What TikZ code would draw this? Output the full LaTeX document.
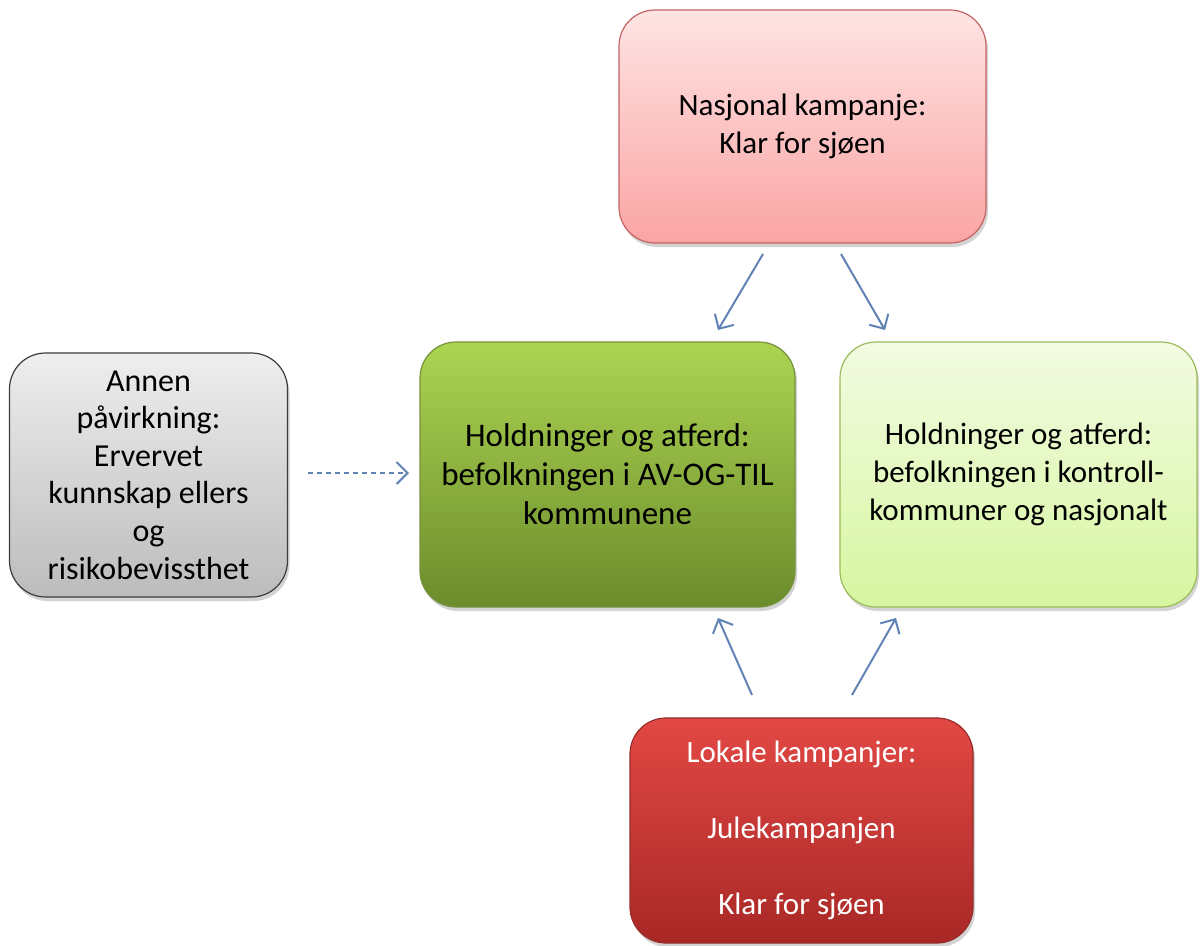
\documentclass[tikz,border=0pt]{standalone}
\usepackage{fontspec}
\setmainfont{Carlito}
\usetikzlibrary{arrows.meta,shadows}
\definecolor{arrowblue}{RGB}{96,130,180}
\definecolor{pinkTop}{RGB}{254,228,228}
\definecolor{pinkBot}{RGB}{251,164,164}
\definecolor{pinkLine}{RGB}{196,100,98}
\definecolor{greenTop}{RGB}{172,212,82}
\definecolor{greenBot}{RGB}{108,140,44}
\definecolor{greenLine}{RGB}{118,146,60}
\definecolor{lgreenTop}{RGB}{243,251,226}
\definecolor{lgreenBot}{RGB}{214,246,160}
\definecolor{lgreenLine}{RGB}{155,187,89}
\definecolor{grayTop}{RGB}{238,238,238}
\definecolor{grayBot}{RGB}{188,188,188}
\definecolor{grayLine}{RGB}{60,60,60}
\definecolor{redTop}{RGB}{226,72,68}
\definecolor{redBot}{RGB}{168,40,38}
\definecolor{redLine}{RGB}{150,45,42}
\tikzset{
  box/.style={draw, line width=1.2pt, rounded corners=36pt, align=center,
    font=\fontsize{31pt}{38pt}\selectfont, inner sep=0pt,
    drop shadow={opacity=0.35, shadow xshift=2pt, shadow yshift=-4pt}},
  conn/.style={draw=arrowblue, line width=2pt,
    -{Straight Barb[length=11pt,width=22pt,line width=2pt]}},
  dconn/.style={conn, dash pattern=on 5pt off 4pt}
}
\begin{document}
\begin{tikzpicture}[x=1pt,y=-1pt]
\useasboundingbox (0,0) rectangle (1204,945);
\node[box, minimum width=367pt, minimum height=233pt, draw=pinkLine,
  top color=pinkTop, bottom color=pinkBot] (nat) at (802.5,126.5)
  {Nasjonal kampanje:\\Klar for sjøen};
\node[box, minimum width=375pt, minimum height=265pt, draw=greenLine,
  top color=greenTop, bottom color=greenBot,
  font=\fontsize{33pt}{39pt}\selectfont] (av) at (607.5,474.5)
  {Holdninger og atferd:\\befolkningen i AV-OG-TIL\\kommunene};
\node[box, minimum width=357pt, minimum height=265pt, draw=lgreenLine,
  top color=lgreenTop, bottom color=lgreenBot] (kon) at (1018.5,474.5)
  {Holdninger og atferd:\\befolkningen i kontroll-\\kommuner og nasjonalt};
\node[box, minimum width=278pt, minimum height=244pt, draw=grayLine,
  top color=grayTop, bottom color=grayBot,
  font=\fontsize{32pt}{37.6pt}\selectfont] (annen) at (148.5,475)
  {Annen\\påvirkning:\\Ervervet\\kunnskap ellers\\og\\risikobevissthet};
\node[box, minimum width=343pt, minimum height=225pt, draw=redLine,
  top color=redTop, bottom color=redBot, text=white] (lok) at (801.5,830.5)
  {Lokale kampanjer:\\[38pt]Julekampanjen\\[38pt]Klar for sjøen};
\coordinate (a1s) at (763,254); \coordinate (a1e) at (718,330);
\coordinate (a2s) at (841,254); \coordinate (a2e) at (885,330);
\coordinate (a3s) at (752,695); \coordinate (a3e) at (718,618);
\coordinate (a4s) at (852,695); \coordinate (a4e) at (896,618);
\coordinate (a5s) at (308,473); \coordinate (a5e) at (409,473);
\draw[conn] (a1s) -- (a1e);
\draw[conn] (a2s) -- (a2e);
\draw[conn] (a3s) -- (a3e);
\draw[conn] (a4s) -- (a4e);
\draw[dconn] (a5s) -- (a5e);
\end{tikzpicture}
\end{document}
